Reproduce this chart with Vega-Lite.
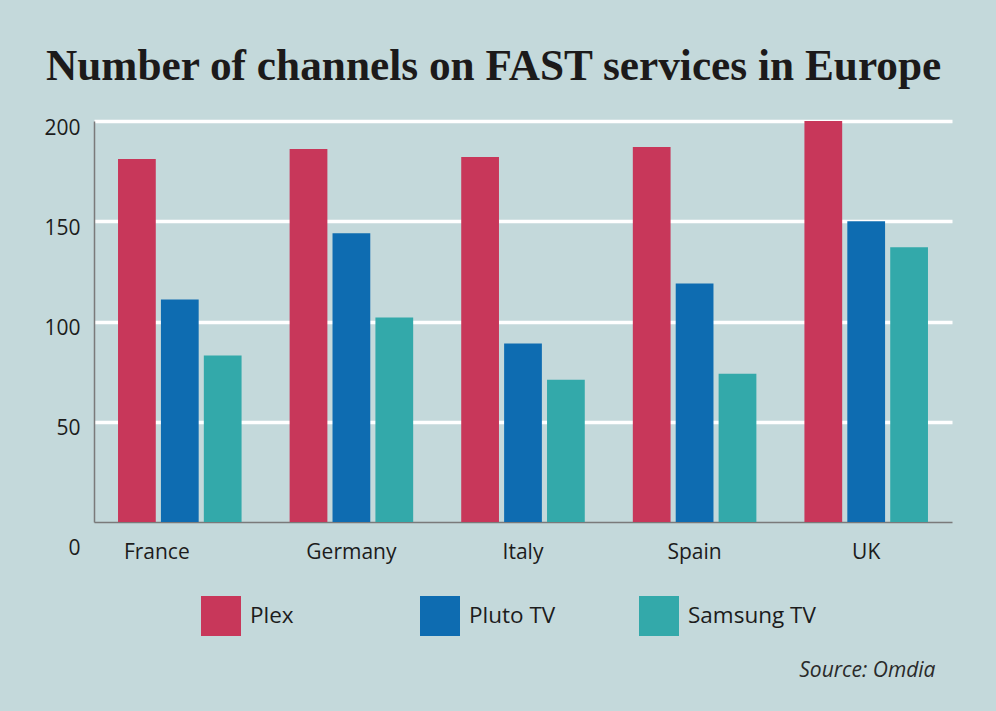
{
  "$schema": "https://vega.github.io/schema/vega-lite/v6.json",
  "width": 858,
  "height": 401,
  "autosize": {"type": "none"},
  "padding": {"left": 94, "top": 121, "right": 44, "bottom": 189},
  "background": "#c4d9db",
  "title": {
    "text": "Number of channels on FAST services in Europe",
    "anchor": "start",
    "frame": "group",
    "dx": -48,
    "offset": 28,
    "font": "Liberation Serif",
    "fontSize": 43.3,
    "fontWeight": "bold",
    "color": "#1c1a1a"
  },
  "data": {
    "values": [
      {"country": "France", "service": "Plex", "channels": 181},
      {"country": "France", "service": "Pluto TV", "channels": 111},
      {"country": "France", "service": "Samsung TV", "channels": 83},
      {"country": "Germany", "service": "Plex", "channels": 186},
      {"country": "Germany", "service": "Pluto TV", "channels": 144},
      {"country": "Germany", "service": "Samsung TV", "channels": 102},
      {"country": "Italy", "service": "Plex", "channels": 182},
      {"country": "Italy", "service": "Pluto TV", "channels": 89},
      {"country": "Italy", "service": "Samsung TV", "channels": 71},
      {"country": "Spain", "service": "Plex", "channels": 187},
      {"country": "Spain", "service": "Pluto TV", "channels": 119},
      {"country": "Spain", "service": "Samsung TV", "channels": 74},
      {"country": "UK", "service": "Plex", "channels": 200},
      {"country": "UK", "service": "Pluto TV", "channels": 150},
      {"country": "UK", "service": "Samsung TV", "channels": 137}
    ]
  },
  "mark": {"type": "bar"},
  "encoding": {
    "x": {
      "field": "country",
      "type": "nominal",
      "sort": null,
      "scale": {"paddingInner": 0.28, "paddingOuter": 0.14},
      "axis": {
        "title": "Source: Omdia",
        "titleFont": "Open Sans",
        "titleFontSize": 21,
        "titleFontStyle": "italic",
        "titleFontWeight": "normal",
        "titleColor": "#2a2a2a",
        "titleAnchor": "end",
        "titleAlign": "right",
        "titleX": 841,
        "titleY": 154,
        "titleBaseline": "alphabetic",
        "labelAngle": 0,
        "labelFont": "Open Sans",
        "labelFontSize": 21,
        "labelColor": "#1c1c1c",
        "labelPadding": 19,
        "labelOffset": {"condition": {"test": "datum.value == 'France'", "value": -23}, "value": 0},
        "ticks": false,
        "domainColor": "#7a7a7a",
        "domainWidth": 1.5
      }
    },
    "xOffset": {
      "field": "service",
      "type": "nominal",
      "scale": {"paddingInner": 0.12, "paddingOuter": 0}
    },
    "y": {
      "field": "channels",
      "type": "quantitative",
      "scale": {"domain": [0, 200], "nice": false},
      "axis": {
        "title": null,
        "values": [0, 50, 100, 150, 200],
        "labelFont": "Open Sans",
        "labelFontSize": 21,
        "labelColor": "#1c1c1c",
        "labelPadding": 14,
        "labelOffset": {"condition": {"test": "datum.value == 0", "value": 26}, "value": 7},
        "ticks": false,
        "domainColor": "#7a7a7a",
        "domainWidth": 1.5,
        "grid": true,
        "gridColor": "white",
        "gridWidth": 3.5,
        "gridOpacity": {"condition": {"test": "datum.value == 0", "value": 0}, "value": 1}
      }
    },
    "color": {
      "field": "service",
      "type": "nominal",
      "scale": {
        "domain": ["Plex", "Pluto TV", "Samsung TV"],
        "range": ["#c8375a", "#0e6cb1", "#33a9aa"]
      },
      "legend": {
        "title": null,
        "orient": "none",
        "legendX": 107,
        "legendY": 475,
        "direction": "horizontal",
        "gridAlign": "all",
        "columnPadding": 42,
        "symbolType": "square",
        "symbolSize": 1600,
        "symbolStrokeWidth": 0,
        "symbolOpacity": 1,
        "labelFont": "Open Sans",
        "labelFontSize": 22.5,
        "labelColor": "#1c1c1c",
        "labelOffset": 9
      }
    }
  },
  "config": {
    "view": {"stroke": null}
  }
}
